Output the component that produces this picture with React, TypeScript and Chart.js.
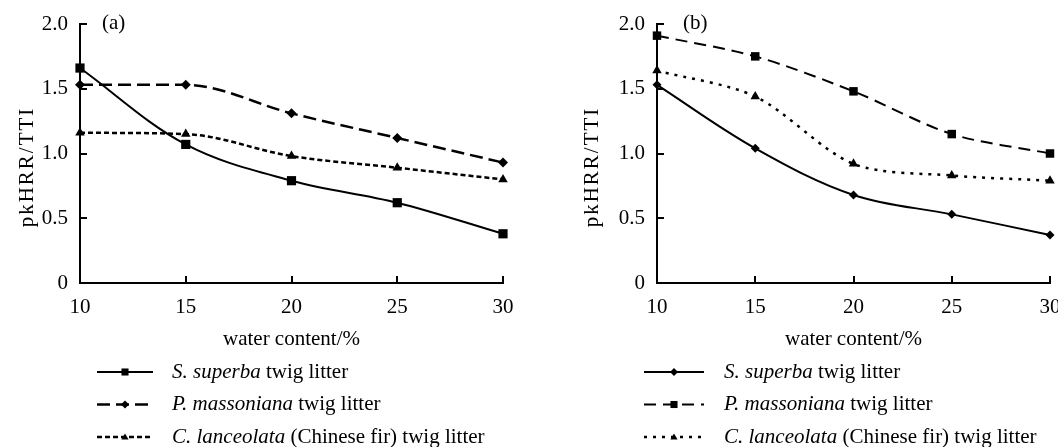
import React, { useEffect, useRef } from 'react';
import { Chart, registerables } from 'chart.js';

Chart.register(...registerables);

// ---- data ----
const waterContent = [10, 15, 20, 25, 30];
const xTickValues = [10, 15, 20, 25, 30];
const yTickValues = [0, 0.5, 1.0, 1.5, 2.0];

const speciesNames = ['S. superba', 'P. massoniana', 'C. lanceolata'];
const speciesSuffix = [' twig litter', ' twig litter', ' (Chinese fir) twig litter'];

const panelA_superba = [1.66, 1.07, 0.79, 0.62, 0.38];
const panelA_massoniana = [1.53, 1.53, 1.31, 1.12, 0.93];
const panelA_lanceolata = [1.16, 1.15, 0.98, 0.89, 0.80];

const panelB_superba = [1.53, 1.04, 0.68, 0.53, 0.37];
const panelB_massoniana = [1.91, 1.75, 1.48, 1.15, 1.00];
const panelB_lanceolata = [1.64, 1.44, 0.92, 0.83, 0.79];

const FONT = '"Liberation Serif", "Times New Roman", serif';
const FS = 21;
const W = 529;
const H = 447;
const AREA_TOP = 24;
const AREA_BOTTOM = 283;
const X_AXIS_H = 80;

type Series = {
  values: number[];
  dash: number[];
  point: 'rect' | 'rectRot' | 'triangle';
  radius: number;
  legendRadius: number;
  width: number;
  tension: number;
  monotone?: boolean;
};

type PanelCfg = {
  label: string;
  left: number;
  right: number;
  labelX: number;
  yTitleX: number;
  legendX1: number;
  legendX2: number;
  legendTextX: number;
  series: Series[];
};

const panels: PanelCfg[] = [
  {
    label: '(a)',
    left: 80,
    right: 503,
    labelX: 102,
    yTitleX: 27,
    legendX1: 97,
    legendX2: 153,
    legendTextX: 172,
    series: [
      { values: panelA_superba, dash: [], point: 'rect', radius: 6.5, legendRadius: 5, width: 2, tension: 0.35 },
      { values: panelA_massoniana, dash: [13, 6], point: 'rectRot', radius: 5, legendRadius: 4, width: 2.5, tension: 0.4, monotone: true },
      { values: panelA_lanceolata, dash: [5, 3], point: 'triangle', radius: 5.5, legendRadius: 4, width: 2.5, tension: 0.4, monotone: true },
    ],
  },
  {
    label: '(b)',
    left: 128,
    right: 521,
    labelX: 154,
    yTitleX: 63,
    legendX1: 115,
    legendX2: 175,
    legendTextX: 195,
    series: [
      { values: panelB_superba, dash: [], point: 'rectRot', radius: 4.5, legendRadius: 4, width: 2, tension: 0.35 },
      { values: panelB_massoniana, dash: [12, 7], point: 'rect', radius: 6, legendRadius: 5, width: 2, tension: 0.3 },
      { values: panelB_lanceolata, dash: [3, 6], point: 'triangle', radius: 5.5, legendRadius: 4, width: 2.5, tension: 0.3 },
    ],
  },
];

function drawMarker(ctx: CanvasRenderingContext2D, style: string, r: number, x: number, y: number) {
  ctx.beginPath();
  if (style === 'rect') {
    const s = r * Math.SQRT1_2;
    ctx.rect(x - s, y - s, 2 * s, 2 * s);
  } else if (style === 'rectRot') {
    ctx.moveTo(x, y - r);
    ctx.lineTo(x + r, y);
    ctx.lineTo(x, y + r);
    ctx.lineTo(x - r, y);
    ctx.closePath();
  } else {
    const h = r * 1.5;
    const half = r * 0.9;
    ctx.moveTo(x, y - h * 0.6);
    ctx.lineTo(x + half, y + h * 0.4);
    ctx.lineTo(x - half, y + h * 0.4);
    ctx.closePath();
  }
  ctx.fill();
}

function makeAnnotPlugin(cfg: PanelCfg) {
  return {
    id: 'annot',
    afterDraw(chart: any) {
      const ctx: CanvasRenderingContext2D = chart.ctx;
      const ca = chart.chartArea;
      const xs = chart.scales.x;
      const ys = chart.scales.y;
      ctx.save();
      ctx.strokeStyle = '#000';
      ctx.fillStyle = '#000';
      ctx.lineWidth = 2;
      ctx.setLineDash([]);
      // inward tick marks
      ctx.beginPath();
      xTickValues.forEach((v) => {
        const px = Math.round(xs.getPixelForValue(v));
        ctx.moveTo(px, ca.bottom);
        ctx.lineTo(px, ca.bottom - 7);
      });
      yTickValues.forEach((v) => {
        const py = Math.round(ys.getPixelForValue(v));
        ctx.moveTo(ca.left, py);
        ctx.lineTo(ca.left + 7, py);
      });
      ctx.stroke();

      // panel label
      ctx.font = `${FS}px ${FONT}`;
      ctx.textBaseline = 'middle';
      ctx.textAlign = 'left';
      ctx.fillText(cfg.label, cfg.labelX, 23);

      // y title
      ctx.save();
      ctx.translate(cfg.yTitleX, 167);
      ctx.rotate(-Math.PI / 2);
      ctx.textAlign = 'center';
      (ctx as any).letterSpacing = '2px';
      ctx.fillText('pkHRR/TTI', 0, 0);
      (ctx as any).letterSpacing = '0px';
      ctx.restore();

      // legend
      cfg.series.forEach((s, i) => {
        const y = 372 + 32.5 * i;
        ctx.lineWidth = s.width;
        ctx.setLineDash(s.dash);
        ctx.beginPath();
        ctx.moveTo(cfg.legendX1, y);
        ctx.lineTo(cfg.legendX2, y);
        ctx.stroke();
        ctx.setLineDash([]);
        drawMarker(ctx, s.point, s.legendRadius, (cfg.legendX1 + cfg.legendX2) / 2, y);
        ctx.textAlign = 'left';
        ctx.textBaseline = 'middle';
        ctx.font = `italic ${FS}px ${FONT}`;
        ctx.fillText(speciesNames[i], cfg.legendTextX, y);
        const w = ctx.measureText(speciesNames[i]).width;
        ctx.font = `${FS}px ${FONT}`;
        ctx.fillText(speciesSuffix[i], cfg.legendTextX + w, y);
      });
      ctx.restore();
    },
  };
}

function Panel({ cfg }: { cfg: PanelCfg }) {
  const ref = useRef<HTMLCanvasElement>(null);
  useEffect(() => {
    const canvas = ref.current;
    if (!canvas) return;
    const chart = new Chart(canvas, {
      type: 'line',
      data: {
        datasets: cfg.series.map((s, i) => ({
          label: speciesNames[i],
          data: waterContent.map((x, j) => ({ x, y: s.values[j] })),
          borderColor: '#000',
          backgroundColor: '#000',
          borderWidth: s.width,
          borderDash: s.dash,
          pointStyle: s.point,
          pointRadius: s.radius,
          pointBorderWidth: 0,
          pointBackgroundColor: '#000',
          tension: s.tension,
          cubicInterpolationMode: s.monotone ? 'monotone' : 'default',
          clip: false,
        })) as any,
      },
      options: {
        responsive: false,
        animation: false,
        events: [],
        layout: {
          padding: { left: 0, top: AREA_TOP, right: W - cfg.right, bottom: H - AREA_BOTTOM - X_AXIS_H },
        },
        plugins: { legend: { display: false }, tooltip: { enabled: false } },
        scales: {
          x: {
            type: 'linear',
            min: 10,
            max: 30,
            afterBuildTicks: (s: any) => {
              s.ticks = xTickValues.map((v) => ({ value: v }));
            },
            afterFit: (s: any) => {
              s.height = X_AXIS_H;
              s.paddingLeft = 0;
              s.paddingRight = 0;
            },
            grid: { display: false, drawTicks: false },
            border: { display: true, color: '#000', width: 2 },
            ticks: {
              color: '#000',
              font: { family: FONT, size: FS },
              padding: 12,
              maxRotation: 0,
              autoSkip: false,
            },
            title: {
              display: true,
              text: 'water content/%',
              color: '#000',
              font: { family: FONT, size: FS },
              padding: { top: 0, bottom: 11 },
            },
          },
          y: {
            type: 'linear',
            min: 0,
            max: 2,
            afterBuildTicks: (s: any) => {
              s.ticks = yTickValues.map((v) => ({ value: v }));
            },
            afterFit: (s: any) => {
              s.width = cfg.left;
              s.paddingTop = 0;
              s.paddingBottom = 0;
            },
            grid: { display: false, drawTicks: false },
            border: { display: true, color: '#000', width: 2 },
            ticks: {
              color: '#000',
              font: { family: FONT, size: FS },
              padding: 12,
              autoSkip: false,
              callback: (v: any) => (Number(v) === 0 ? '0' : Number(v).toFixed(1)),
            },
          },
        },
      },
      plugins: [makeAnnotPlugin(cfg)],
    });
    return () => chart.destroy();
  }, [cfg]);
  return <canvas ref={ref} width={W} height={H} style={{ display: 'block', width: W, height: H }} />;
}

export default function App() {
  return (
    <div style={{ position: 'absolute', left: 0, top: 0, width: 1058, height: 447, display: 'flex', background: '#fff' }}>
      {panels.map((p) => (
        <Panel key={p.label} cfg={p} />
      ))}
    </div>
  );
}
